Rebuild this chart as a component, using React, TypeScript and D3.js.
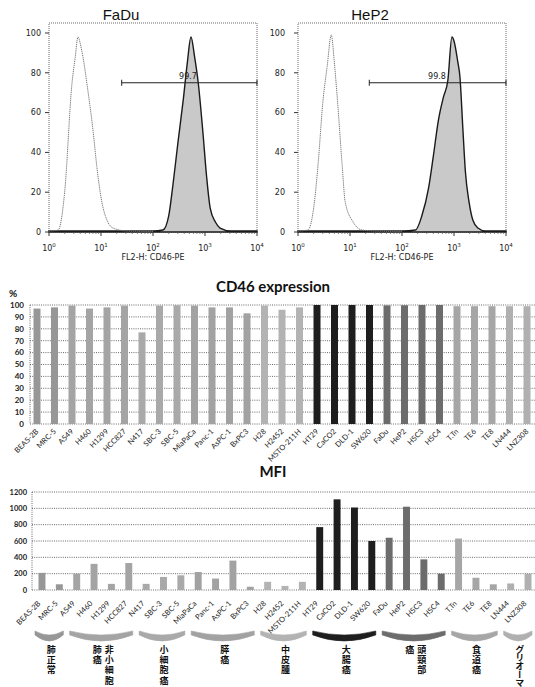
import React from 'react'
import * as d3 from 'd3'

// FL2-H histograms: [FL2-H intensity, % of max]
const faduIsotype = [[1, 0.5], [1.5, 1], [2, 20], [2.75, 74], [3.2, 88], [3.6, 98], [4.2, 92], [5.6, 71], [7.1, 50], [8.3, 33], [11, 12], [17, 2], [32, 0.5], [100, 0.3]]
const faduCD46 = [[1, 0.5], [100, 0.5], [155, 1], [200, 8], [240, 23], [302, 45], [380, 66], [457, 85], [537, 98], [631, 88], [741, 75], [912, 50], [1072, 28], [1259, 12], [1585, 5], [1950, 2], [3160, 0.5], [10000, 0.5]]
const hep2Isotype = [[1, 0.5], [1.55, 1], [2, 12], [2.45, 35], [3, 65], [3.63, 83], [4.37, 99], [5, 85], [5.75, 66], [7, 35], [8.1, 15], [11.5, 5], [17, 1], [30, 0.5], [100, 0.3]]
const hep2CD46 = [[1, 0.5], [100, 0.5], [182, 1], [240, 8], [324, 22], [400, 38], [500, 56], [630, 68], [760, 76], [912, 98], [1000, 96], [1175, 86], [1300, 78], [1480, 52], [1660, 30], [1950, 15], [2300, 6], [2880, 2], [4000, 0.5], [10000, 0.5]]

// gate marker: [from, to] intensity, level in %
const faduGate = [25, 10000]
const hep2Gate = [23.5, 10000]
const gateLevel = 75
const histYTicks = [0, 20, 40, 60, 80, 100]
const decades = [1, 10, 100, 1000, 10000]

const cellLines = ['BEAS-2B', 'MRC-5', 'A549', 'H460', 'H1299', 'HCC827', 'N417', 'SBC-3', 'SBC-5', 'MiaPaCa', 'Panc-1', 'AsPC-1', 'BxPC3', 'H28', 'H2452', 'MSTO-211H', 'HT29', 'CaCO2', 'DLD-1', 'SW620', 'FaDu', 'HeP2', 'HSC3', 'HSC4', 'T.Tn', 'TE6', 'TE8', 'LN444', 'LNZ308']
const cd46Pct = [97, 98, 99.5, 97, 98, 99.5, 77, 99.5, 99.8, 99.5, 98, 98, 93, 99.5, 96, 98, 100, 100, 100, 100, 99.7, 99.8, 100, 100, 99, 99, 99, 99, 99]
const mfi = [210, 70, 200, 320, 75, 330, 75, 160, 180, 220, 140, 360, 40, 100, 50, 100, 770, 1110, 1010, 600, 640, 1020, 375, 200, 630, 150, 70, 80, 200]

// tumour groups (columns of vertical text, right to left)
const groupLabels = [['肺正常'], ['非小細胞', '肺癌'], ['小細胞癌'], ['膵癌'], ['中皮腫'], ['大腸癌'], ['頭頸部', '癌'], ['食道癌'], ['グリオーマ']]
const groupSizes = [2, 4, 3, 4, 3, 4, 4, 3, 2]
const groupColors = ['#979797', '#a4a4a4', '#a9a9a9', '#a2a2a2', '#b3b3b3', '#1e1e1e', '#6c6c6c', '#a6a6a6', '#b0b0b0']

const cd46Ticks = d3.range(0, 101, 10)
const mfiTicks = d3.range(0, 1201, 200)

const latin = 'Lato, "Open Sans", sans-serif'
const histFont = '"DejaVu Sans", sans-serif'

// which group each cell line belongs to
const groupOf: number[] = groupSizes.flatMap((n, g) => Array(n).fill(g))
const groupStart: number[] = groupSizes.map((_, g) => d3.sum(groupSizes.slice(0, g)))

function FlowHistogram({ title, left, isotype, cd46, gate, pct, labelGap }: any) {
  const x = d3.scaleLog().domain([1, 10000]).range([left, left + 208])
  const y = d3.scaleLinear().domain([0, 100]).range([232, 33])
  const line = d3.line<number[]>().x(d => x(d[0])).y(d => y(d[1])).curve(d3.curveMonotoneX)
  const area = d3.area<number[]>().x(d => x(d[0])).y0(y(0)).y1(d => y(d[1])).curve(d3.curveMonotoneX)
  const top = 23
  const minor = x.ticks().filter(t => !decades.includes(t))
  const gy = y(gateLevel)

  return (
    <g>
      <text x={left + 72} y={20} fontSize={15} textAnchor='middle' fontFamily='"Liberation Sans", Arial, sans-serif' fill='#111'>{title}</text>
      <rect x={left} y={top} width={208} height={y(0) - top} fill='none' stroke='#444' strokeWidth={0.8} strokeDasharray='1,1' />
      <path d={area(cd46) || ''} fill='#c9c9c9' stroke='#1a1a1a' strokeWidth={1.4} />
      <path d={line(isotype) || ''} fill='none' stroke='#7a7a7a' strokeWidth={1} strokeDasharray='1.3,0.8' />

      {histYTicks.map(t => (
        <g key={t}>
          <line x1={left - 4} x2={left} y1={y(t)} y2={y(t)} stroke='#333' />
          <text x={left - labelGap} y={y(t)} dy='0.35em' fontSize={8} textAnchor='end' fontFamily={histFont} fill='#222'>{t}</text>
        </g>
      ))}
      {minor.map(t => (
        <line key={t} x1={x(t)} x2={x(t)} y1={y(0)} y2={y(0) + 2} stroke='#555' strokeWidth={0.7} />
      ))}
      {decades.map((t, i) => (
        <g key={t}>
          <line x1={x(t)} x2={x(t)} y1={y(0)} y2={y(0) + 4} stroke='#333' />
          <text x={x(t)} y={251} fontSize={8} textAnchor='middle' fontFamily={histFont} fill='#222'>
            10<tspan dy={-4} fontSize={5.5}>{i}</tspan>
          </text>
        </g>
      ))}
      <text x={left + 104} y={260} fontSize={8} textAnchor='middle' fontFamily={histFont} fill='#222'>FL2-H: CD46-PE</text>

      <line x1={x(gate[0])} x2={x(gate[1])} y1={gy} y2={gy} stroke='#222' strokeWidth={1.2} />
      <line x1={x(gate[0])} x2={x(gate[0])} y1={gy - 3} y2={gy + 3} stroke='#222' />
      <line x1={x(gate[1])} x2={x(gate[1])} y1={gy - 3} y2={gy + 3} stroke='#222' />
      <text x={x(gate[1]) - 69} y={gy - 4} fontSize={8} textAnchor='middle' fontFamily={histFont} fill='#222'>{pct}</text>
    </g>
  )
}

export default function App() {
  const xCD = d3.scaleBand().domain(cellLines).range([30, 534]).paddingInner(0.6).paddingOuter(0.2)
  const yCD = d3.scaleLinear().domain([0, 100]).range([424, 305])
  const xM = d3.scaleBand().domain(cellLines).range([32, 538]).paddingInner(0.6).paddingOuter(0.375)
  const yM = d3.scaleLinear().domain([0, 1200]).range([590, 492])
  const cCD = (name: string) => (xCD(name) || 0) + xCD.bandwidth() / 2
  const cM = (name: string) => (xM(name) || 0) + xM.bandwidth() / 2

  return (
    <svg width={535} height={687} style={{ position: 'absolute', left: 0, top: 0, background: '#fff' }}>
      <rect width={535} height={687} fill='#fff' />

      <FlowHistogram title='FaDu' left={49} isotype={faduIsotype} cd46={faduCD46} gate={faduGate} pct='99.7' labelGap={8} />
      <FlowHistogram title='HeP2' left={298} isotype={hep2Isotype} cd46={hep2CD46} gate={hep2Gate} pct='99.8' labelGap={13} />

      {/* CD46 expression, % positive */}
      <text x={273} y={292} fontSize={15} fontWeight='bold' textAnchor='middle' fontFamily={latin} fill='#111'>CD46 expression</text>
      <text x={13} y={297} fontSize={10} fontWeight='bold' textAnchor='middle' fontFamily={latin} fill='#111'>%</text>
      {cd46Ticks.map(t => (
        <g key={t}>
          <line x1={30} x2={535} y1={yCD(t)} y2={yCD(t)} stroke='#444' strokeWidth={0.8} strokeDasharray='1,1.2' />
          <text x={24} y={yCD(t)} dy='0.35em' fontSize={8} fontWeight='bold' textAnchor='end' fontFamily={latin} fill='#222'>{t}</text>
        </g>
      ))}
      <line x1={30} x2={30} y1={yCD(100)} y2={yCD(0)} stroke='#444' strokeWidth={0.8} strokeDasharray='1,1.2' />
      {cellLines.map((name, i) => (
        <rect key={name} x={xCD(name)} y={yCD(cd46Pct[i])} width={xCD.bandwidth()} height={yCD(0) - yCD(cd46Pct[i])} fill={groupColors[groupOf[i]]} />
      ))}
      {cellLines.map(name => (
        <text key={name} transform={`translate(${cCD(name) + 2},${432}) rotate(-45)`} fontSize={7.5} textAnchor='end' fontFamily={latin} fill='#222'>{name}</text>
      ))}

      {/* MFI */}
      <text x={273} y={477} fontSize={15} fontWeight='bold' textAnchor='middle' fontFamily={latin} fill='#111'>MFI</text>
      {mfiTicks.map(t => (
        <g key={t}>
          <line x1={32} x2={535} y1={yM(t)} y2={yM(t)} stroke='#444' strokeWidth={0.8} strokeDasharray='1,1.2' />
          <text x={27} y={yM(t)} dy='0.35em' fontSize={7.5} fontWeight='bold' textAnchor='end' fontFamily={latin} fill='#222'>{t}</text>
        </g>
      ))}
      <line x1={32} x2={32} y1={yM(1200)} y2={yM(0)} stroke='#444' strokeWidth={0.8} strokeDasharray='1,1.2' />
      {cellLines.map((name, i) => (
        <rect key={name} x={xM(name)} y={yM(mfi[i])} width={xM.bandwidth()} height={yM(0) - yM(mfi[i])} fill={groupColors[groupOf[i]]} />
      ))}
      {cellLines.map(name => (
        <text key={name} transform={`translate(${cM(name) - 1},${604}) rotate(-45)`} fontSize={7.5} textAnchor='end' fontFamily={latin} fill='#222'>{name}</text>
      ))}

      {/* group brackets and labels */}
      {groupLabels.map((cols, g) => {
        const first = cellLines[groupStart[g]]
        const last = cellLines[groupStart[g] + groupSizes[g] - 1]
        const x1 = cM(first) - 7
        const x2 = cM(last) + 4
        const xm = (x1 + x2) / 2
        const y0 = 631
        const s = 4
        const d = `M${x1},${y0} Q${xm},${y0 + 2 * s} ${x2},${y0} L${x2},${y0 + 4} Q${xm},${y0 + 2 * s + 8} ${x1},${y0 + 4} Z`
        return (
          <g key={g}>
            <path d={d} fill={groupColors[g]} stroke={groupColors[g]} strokeWidth={0.6} />
            {cols.map((col, j) => (
              <text key={j} x={xm + 2 + ((cols.length - 1) / 2) * 12 - j * 12} y={645}
                style={{ writingMode: 'vertical-rl' }}
                fontSize={9} fontWeight='bold' letterSpacing={col.length > 4 ? -0.8 : 1.2}
                fontFamily='"Noto Sans CJK JP", sans-serif' fill='#111'>{col}</text>
            ))}
          </g>
        )
      })}
    </svg>
  )
}
